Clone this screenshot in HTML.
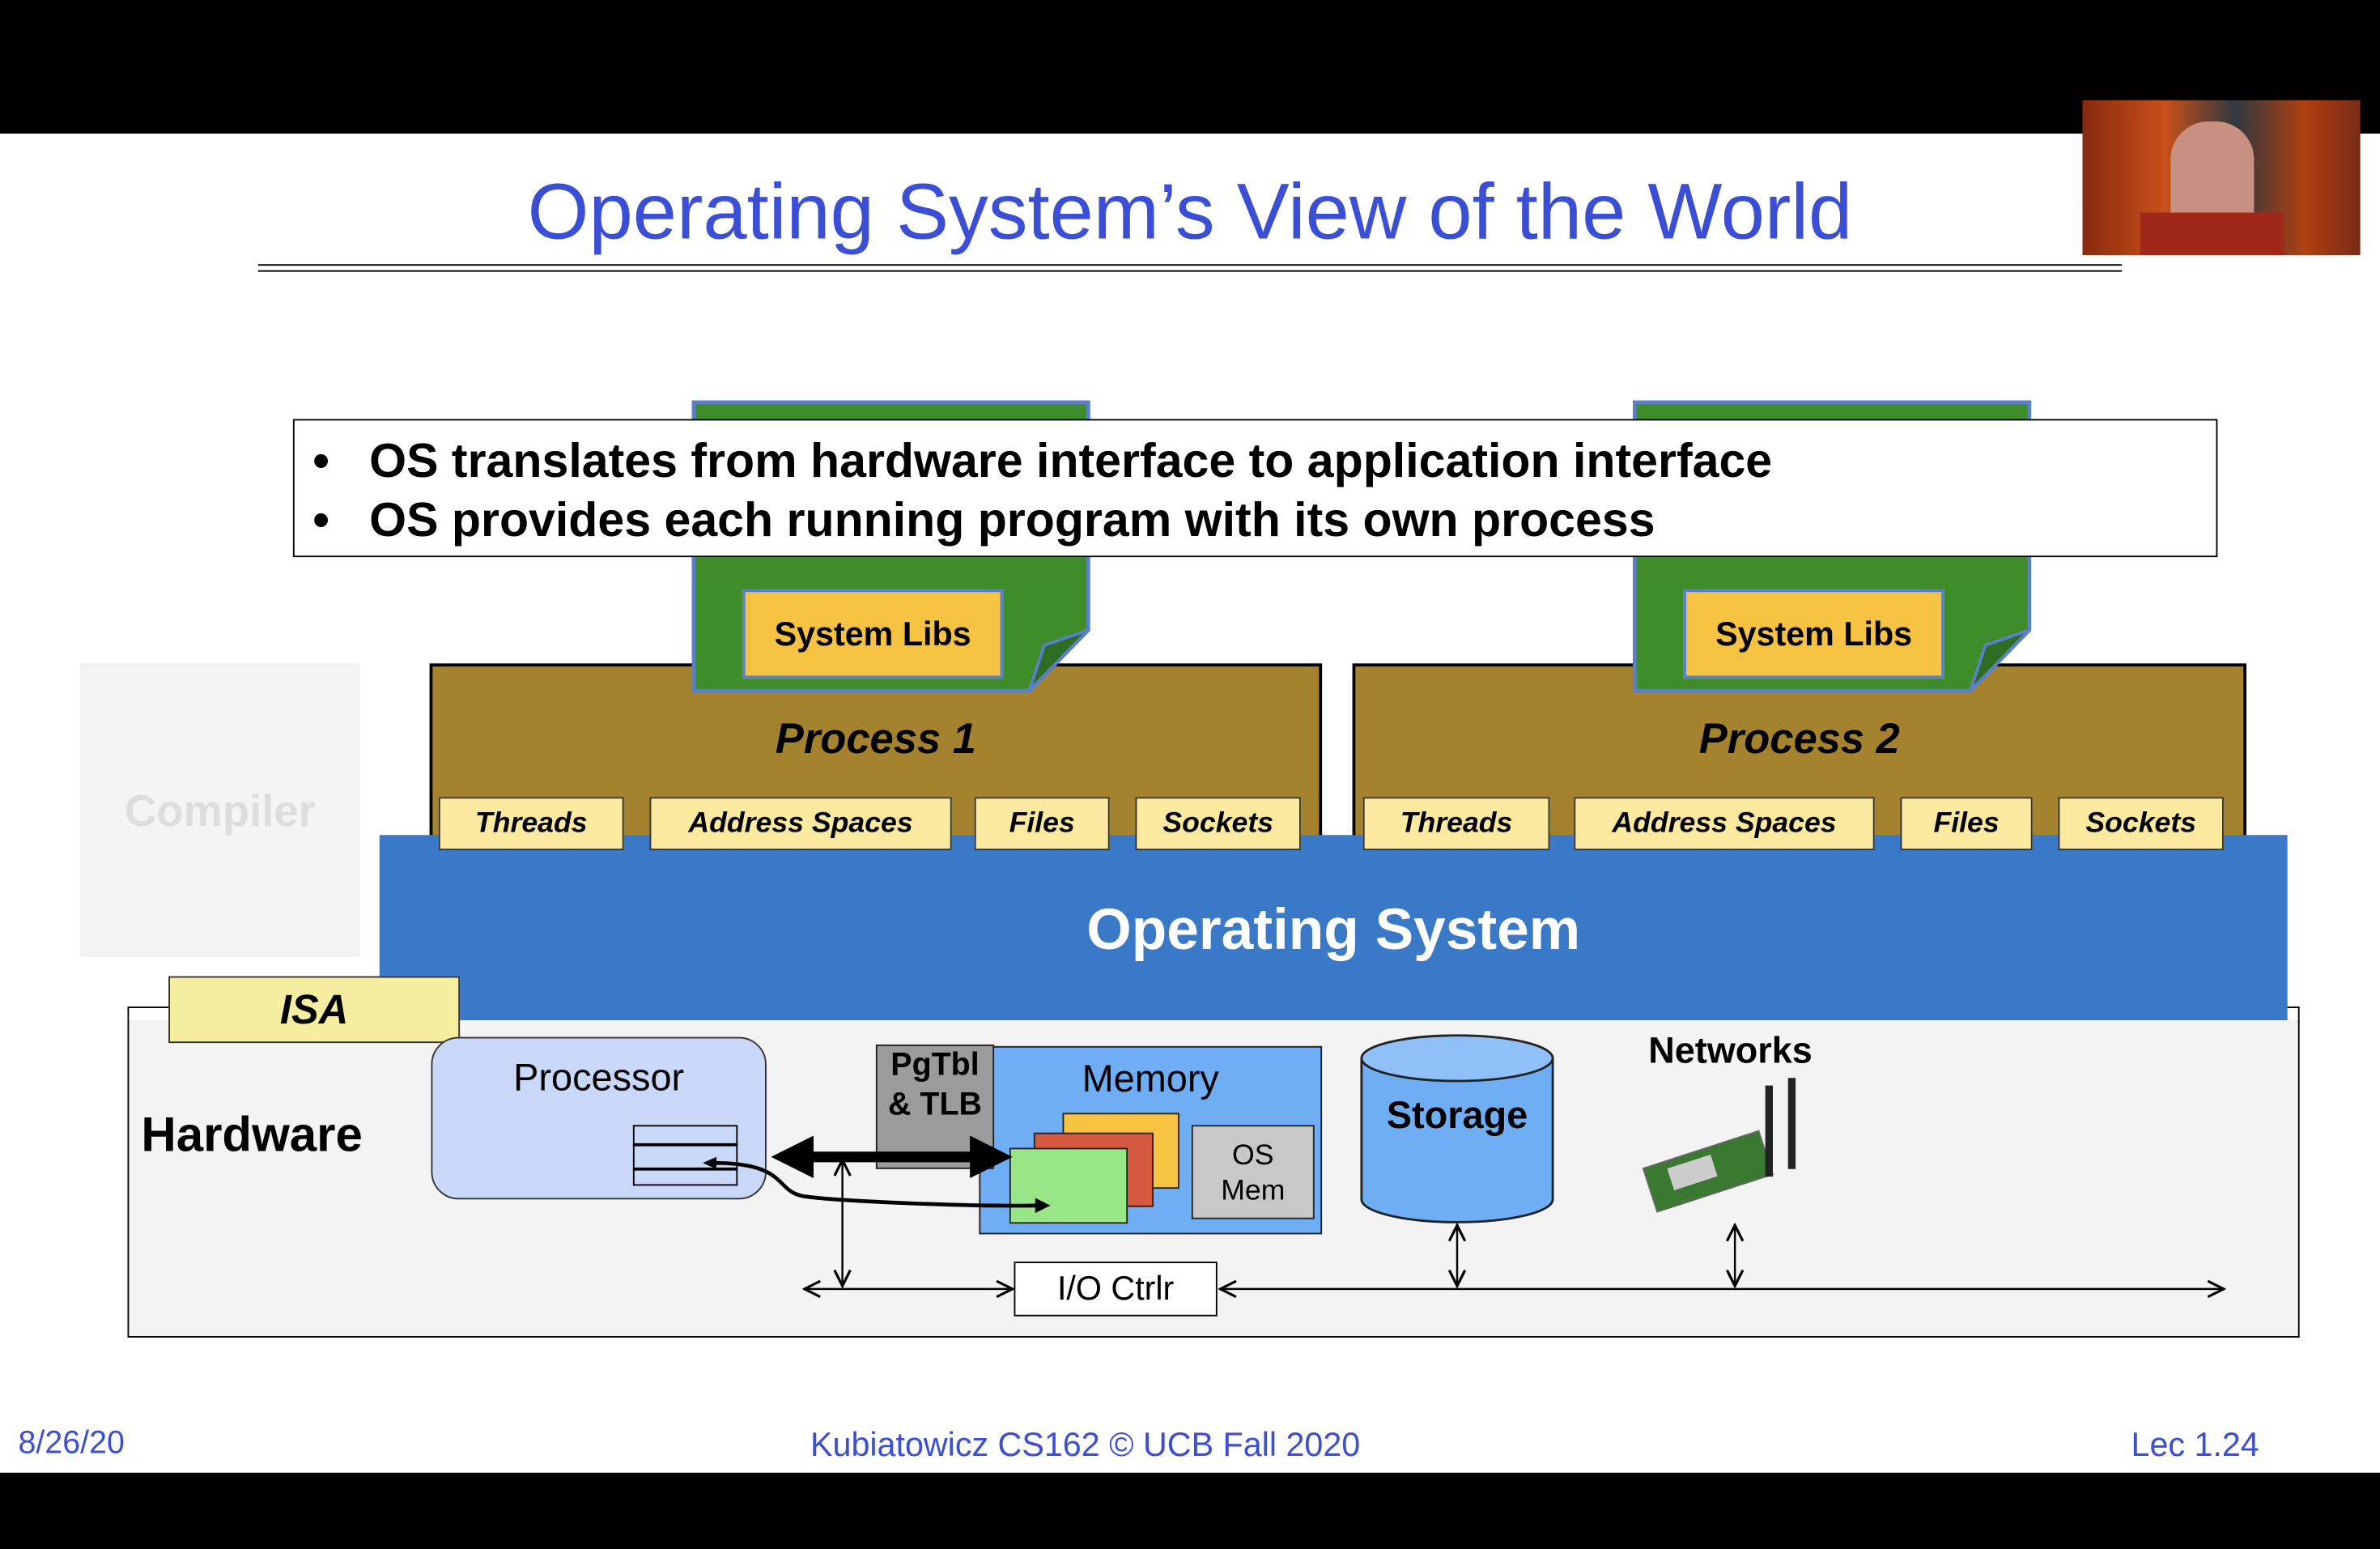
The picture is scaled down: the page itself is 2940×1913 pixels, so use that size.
<!DOCTYPE html>
<html><head><meta charset="utf-8"><style>
html,body{margin:0;padding:0;background:#000;overflow:hidden;width:2940px;height:1912px}
#s{position:absolute;left:0;top:0;width:1568px;height:1020px;transform:scale(1.875);transform-origin:0 0;font-family:"Liberation Sans",sans-serif}
.a{position:absolute;box-sizing:border-box}
.c{display:flex;align-items:center;justify-content:center;text-align:center}
.sb{background:#fbe9a0;border:1.5px solid #333;font-weight:bold;font-style:italic;font-size:19px}
</style></head><body><div id="s">
<div class="a" style="left:0;top:88px;width:1568px;height:882px;background:#fff"></div>
<div class="a" style="left:1372px;top:66px;width:183px;height:102px;background:linear-gradient(90deg,#8a2a10,#c8501a 30%,#303840 55%,#b04010 80%,#7a2a18)"></div>
<div class="a" style="left:1430px;top:80px;width:55px;height:88px;background:#c89080;border-radius:25px 25px 5px 5px"></div>
<div class="a" style="left:1410px;top:140px;width:95px;height:28px;background:#a02818"></div>
<div class="a c" style="left:170px;top:108px;width:1228px;height:64px;color:#3b4ed6;font-size:52px">Operating System’s View of the World</div>
<div class="a" style="left:170px;top:174px;width:1228px;height:5px;border-top:1.5px solid #000;border-bottom:1.5px solid #000"></div>

<div class="a" style="left:53px;top:437px;width:184px;height:193px;background:#f4f4f4;border:1px solid #eee"></div>
<div class="a c" style="left:53px;top:510px;width:184px;height:50px;color:#ddd;font-weight:bold;font-size:29px">Compiler</div>

<div class="a" style="left:283px;top:437px;width:588px;height:118px;background:#a5832e;border:2px solid #000"></div>
<div class="a" style="left:891px;top:437px;width:589px;height:118px;background:#a5832e;border:2px solid #000"></div>

<!-- docs -->
<svg class="a" style="left:0;top:0" width="1568" height="1020">
<path d="M457 265H717V415L678 455H457Z" fill="#3e8c2a" stroke="#5a7fcf" stroke-width="2.5"/>
<path d="M678 455L688 425L717 415Z" fill="#2f6e22" stroke="#5a7fcf" stroke-width="2"/>
<path d="M1077 265H1337V415L1298 455H1077Z" fill="#3e8c2a" stroke="#5a7fcf" stroke-width="2.5"/>
<path d="M1298 455L1308 425L1337 415Z" fill="#2f6e22" stroke="#5a7fcf" stroke-width="2"/>
</svg>
<div class="a c" style="left:489px;top:388px;width:172px;height:59px;background:#f5c242;border:2.5px solid #5a7fcf;font-weight:bold;font-size:22px">System Libs</div>
<div class="a c" style="left:1109px;top:388px;width:172px;height:59px;background:#f5c242;border:2.5px solid #5a7fcf;font-weight:bold;font-size:22px">System Libs</div>

<div class="a" style="left:193px;top:276px;width:1268px;height:91px;background:#fff;border:1.5px solid #000;font-weight:bold;font-size:31.5px;padding:7px 0 0 12px;line-height:39px;white-space:nowrap">
<div>•&nbsp;&nbsp;&nbsp;OS translates from hardware interface to application interface</div>
<div>•&nbsp;&nbsp;&nbsp;OS provides each running program with its own process</div></div>

<div class="a c" style="left:283px;top:467px;width:588px;height:40px;font-weight:bold;font-style:italic;font-size:28px">Process 1</div>
<div class="a c" style="left:891px;top:467px;width:589px;height:40px;font-weight:bold;font-style:italic;font-size:28px">Process 2</div>

<div class="a" style="left:250px;top:550px;width:1257px;height:122px;background:#3a78c8"></div>
<div class="a c" style="left:250px;top:588px;width:1257px;height:50px;color:#fff;font-weight:bold;font-size:38px">Operating System</div>

<div class="a c sb" style="left:289px;top:525px;width:122px;height:35px">Threads</div>
<div class="a c sb" style="left:428px;top:525px;width:199px;height:35px">Address Spaces</div>
<div class="a c sb" style="left:642px;top:525px;width:89px;height:35px">Files</div>
<div class="a c sb" style="left:748px;top:525px;width:109px;height:35px">Sockets</div>
<div class="a c sb" style="left:898px;top:525px;width:123px;height:35px">Threads</div>
<div class="a c sb" style="left:1037px;top:525px;width:198px;height:35px">Address Spaces</div>
<div class="a c sb" style="left:1252px;top:525px;width:87px;height:35px">Files</div>
<div class="a c sb" style="left:1356px;top:525px;width:109px;height:35px">Sockets</div>

<!-- hardware -->
<div class="a" style="left:84px;top:672px;width:1431px;height:209px;background:#f3f3f3;border:1.5px solid #000;border-top:none"></div>
<div class="a" style="left:1507px;top:663px;width:8px;height:10px;border-right:1.5px solid #000;border-top:1.5px solid #000"></div>
<div class="a" style="left:84px;top:663px;width:30px;height:10px;border-left:1.5px solid #000;border-top:1.5px solid #000"></div>
<div class="a c" style="left:111px;top:643px;width:192px;height:44px;background:#f5eea0;border:1.5px solid #333;font-weight:bold;font-style:italic;font-size:27px">ISA</div>
<div class="a" style="left:93px;top:729px;font-weight:bold;font-size:32px">Hardware</div>
<div class="a" style="left:284px;top:683px;width:221px;height:107px;background:#c9d8f8;border:1.5px solid #333;border-radius:18px"></div>
<div class="a c" style="left:284px;top:694px;width:221px;height:32px;font-size:25px">Processor</div>
<div class="a" style="left:417px;top:741px;width:69px;height:40px;border:1.5px solid #000;background:#c9d8f8"></div>
<div class="a" style="left:417px;top:753px;width:69px;height:1.5px;background:#000"></div>
<div class="a" style="left:417px;top:769px;width:69px;height:1.5px;background:#000"></div>
<div class="a" style="left:645px;top:689px;width:226px;height:124px;background:#6fadf5;border:1.5px solid #222"></div>
<div class="a c" style="left:645px;top:696px;width:226px;height:30px;font-size:25px">Memory</div>
<div class="a" style="left:577px;top:688px;width:78px;height:82px;background:#9b9b9b;border:1.5px solid #222"></div>
<div class="a" style="left:577px;top:689px;width:78px;text-align:center;font-weight:bold;font-size:21px;line-height:26px">PgTbl<br>&amp; TLB</div>
<div class="a" style="left:700px;top:733px;width:77px;height:50px;background:#f5c242;border:1.5px solid #222"></div>
<div class="a" style="left:681px;top:746px;width:79px;height:49px;background:#d65a40;border:1.5px solid #222"></div>
<div class="a" style="left:665px;top:756px;width:78px;height:50px;background:#98e688;border:1.5px solid #222"></div>
<div class="a" style="left:785px;top:741px;width:81px;height:62px;background:#c8c8c8;border:1.5px solid #222;text-align:center;font-size:19px;line-height:23px;padding-top:8px">OS<br>Mem</div>
<div class="a c" style="left:668px;top:831px;width:134px;height:36px;background:#fff;border:1.5px solid #000;font-size:22px">I/O Ctrlr</div>
<svg class="a" style="left:0;top:0" width="1568" height="1020">
<defs><marker id="o" markerWidth="10" markerHeight="10" refX="9" refY="5" orient="auto-start-reverse"><path d="M1 1L9 5L1 9" fill="none" stroke="#000" stroke-width="1.3"/></marker>
<marker id="f" markerWidth="4" markerHeight="4" refX="3" refY="2" orient="auto-start-reverse"><path d="M0 0L4 2L0 4Z"/></marker></defs>
<path d="M897 697V790A63 15 0 0 0 1023 790V697" fill="#6fadf5" stroke="#222" stroke-width="1.5"/>
<ellipse cx="960" cy="697" rx="63" ry="15" fill="#8fc0f8" stroke="#222" stroke-width="1.5"/>
<text x="960" y="743" text-anchor="middle" font-family="Liberation Sans" font-weight="bold" font-size="25">Storage</text>
<text x="1140" y="700" text-anchor="middle" font-family="Liberation Sans" font-weight="bold" font-size="24">Networks</text>
<g transform="rotate(-18 1130 770)"><rect x="1085" y="755" width="80" height="30" fill="#3a7a30" stroke="#666"/><rect x="1100" y="760" width="30" height="15" fill="#ccc"/></g>
<rect x="1163" y="715" width="5" height="60" fill="#222"/><rect x="1178" y="710" width="5" height="60" fill="#222"/>
<line x1="515" y1="762" x2="660" y2="762" stroke="#000" stroke-width="7" marker-start="url(#f)" marker-end="url(#f)"/>
<path d="M470 766C520 766 510 785 530 788S640 795 685 794" fill="none" stroke="#000" stroke-width="2.5"/>
<path d="M692 794L682 789V799Z"/><path d="M463 766L472 762V770Z"/>
<line x1="555" y1="764" x2="555" y2="847" stroke="#000" stroke-width="1.3" marker-start="url(#o)" marker-end="url(#o)"/>
<line x1="530" y1="849" x2="667" y2="849" stroke="#000" stroke-width="1.3" marker-start="url(#o)" marker-end="url(#o)"/>
<line x1="804" y1="849" x2="1465" y2="849" stroke="#000" stroke-width="1.3" marker-start="url(#o)" marker-end="url(#o)"/>
<line x1="960" y1="807" x2="960" y2="847" stroke="#000" stroke-width="1.3" marker-start="url(#o)" marker-end="url(#o)"/>
<line x1="1143" y1="807" x2="1143" y2="847" stroke="#000" stroke-width="1.3" marker-start="url(#o)" marker-end="url(#o)"/>
</svg>
<div class="a" style="left:12px;top:939px;color:#3b4ed6;font-size:21px">8/26/20</div>
<div class="a c" style="left:480px;top:939px;width:470px;height:26px;color:#3b4ed6;font-size:22px">Kubiatowicz CS162 © UCB Fall 2020</div>
<div class="a" style="left:1404px;top:939px;color:#3b4ed6;font-size:22px">Lec 1.24</div>
</div></body></html>
